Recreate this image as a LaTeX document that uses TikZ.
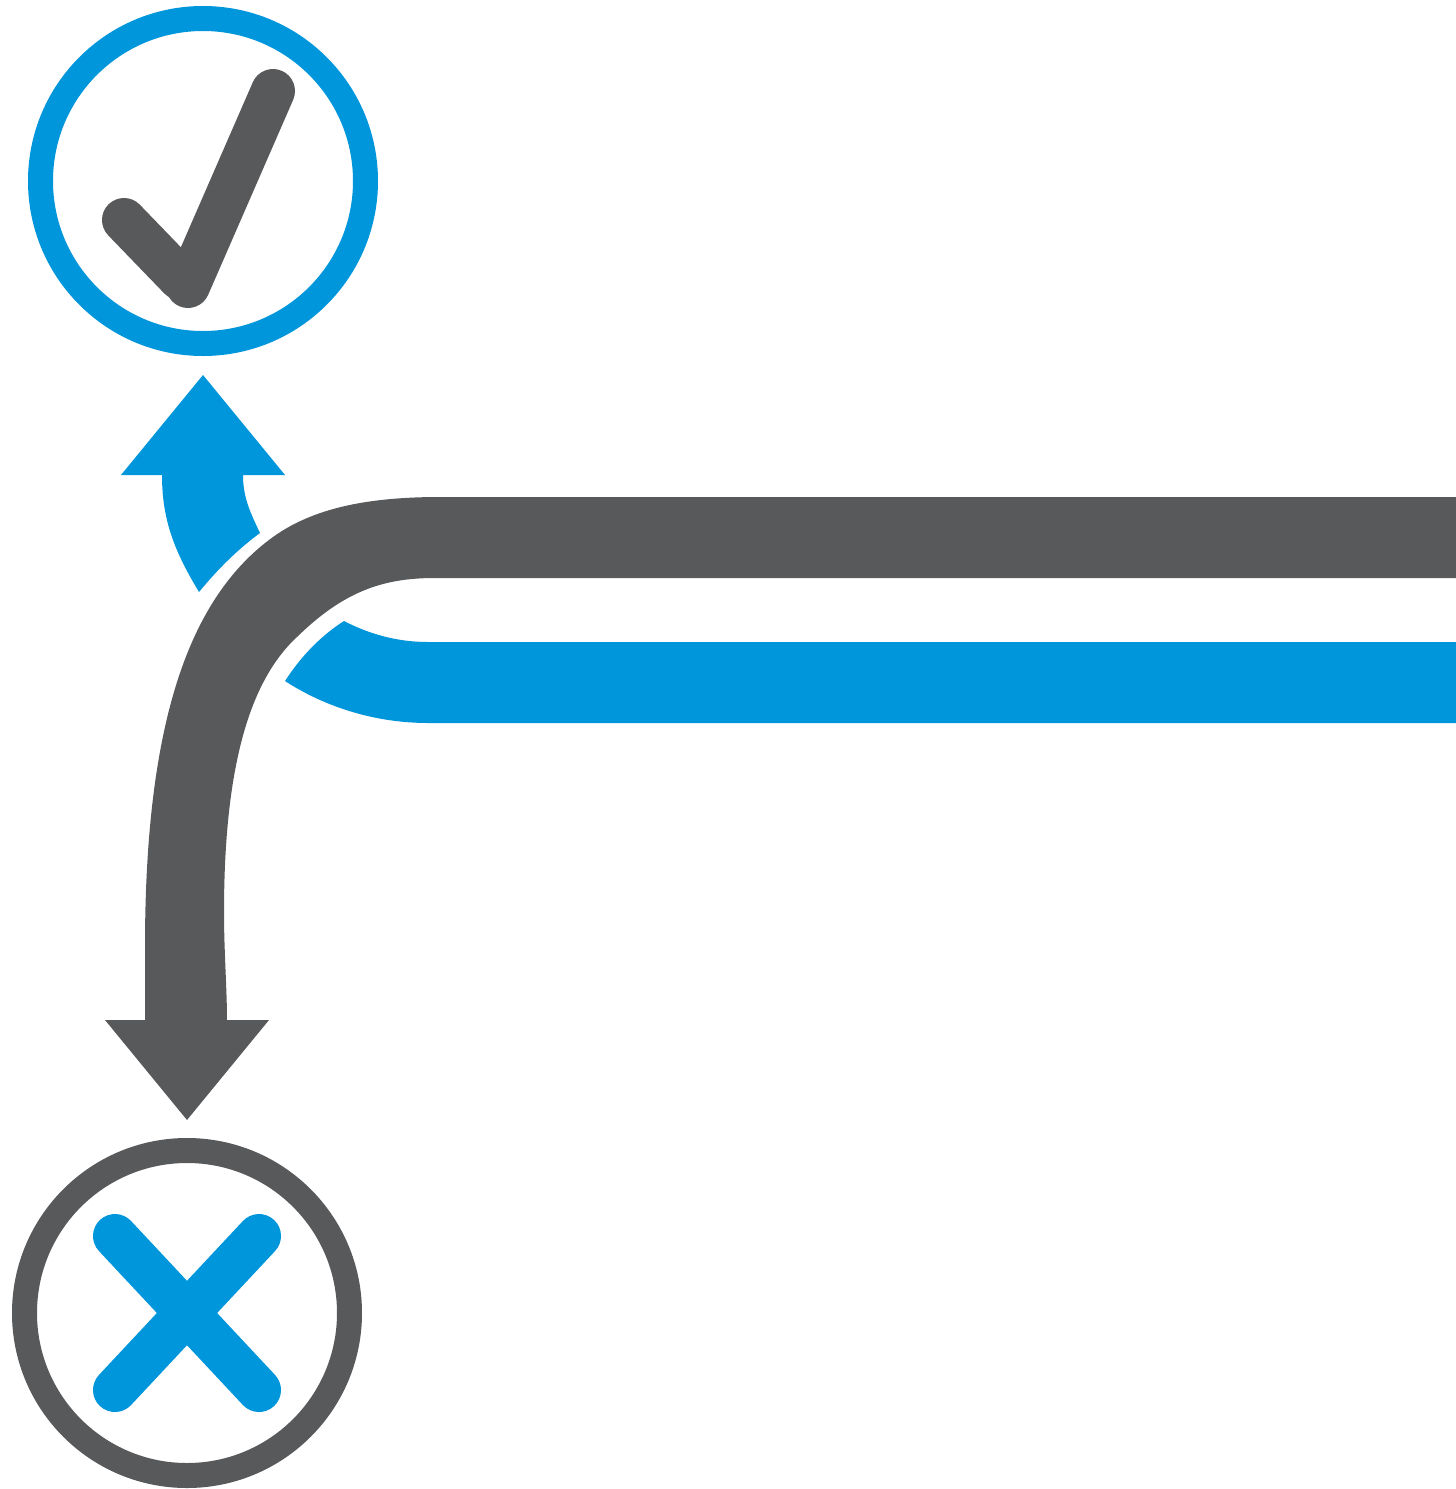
\documentclass[tikz,border=0pt]{standalone}
\definecolor{bluex}{RGB}{0,150,219}
\definecolor{grayx}{RGB}{88,89,91}
\tikzset{
  ring/.style={line width=12.5pt,fill=white},
  stroke/.style={line width=22pt,line cap=round,line join=round}
}
\begin{document}
\begin{tikzpicture}[x=0.5pt,y=-0.5pt]
\useasboundingbox (0,0) rectangle (1456,1489);
\draw[ring,draw=bluex] (203,181) circle[radius=162.5];
\draw[ring,draw=grayx] (187,1313) circle[radius=162.5];
\draw[stroke,draw=grayx] (124,220) -- (180,278);
\draw[stroke,draw=grayx] (188,286) -- (273,91);
\draw[stroke,draw=bluex] (115,1236) -- (259,1390);
\draw[stroke,draw=bluex] (259,1236) -- (115,1390);
\fill[bluex] (121,475) -- (203,375) -- (285,475) -- (243,475)
  .. controls (243,497) and (250,512) .. (260,533)
  .. controls (237,550) and (218,569) .. (199,592)
  .. controls (175,552) and (162,521) .. (162,475) -- cycle;
\fill[bluex] (1456,642) -- (428,642)
  .. controls (397,642) and (369,634) .. (344,621)
  .. controls (319,637) and (300,658) .. (285,681)
  .. controls (325,707) and (375,723) .. (428,723) -- (1456,723) -- cycle;
\fill[grayx] (1456,497) -- (440,497)
  .. controls (365,497) and (312,509) .. (273,537)
  .. controls (190,597) and (145,720) .. (145,947)
  -- (145,1020) -- (105,1020) -- (187,1120) -- (269,1020) -- (227,1020)
  .. controls (227,990) and (224,950) .. (224,913)
  .. controls (224,780) and (245,685) .. (297,637)
  .. controls (345,590) and (385,578) .. (435,578)
  -- (1456,578) -- cycle;
\end{tikzpicture}
\end{document}
